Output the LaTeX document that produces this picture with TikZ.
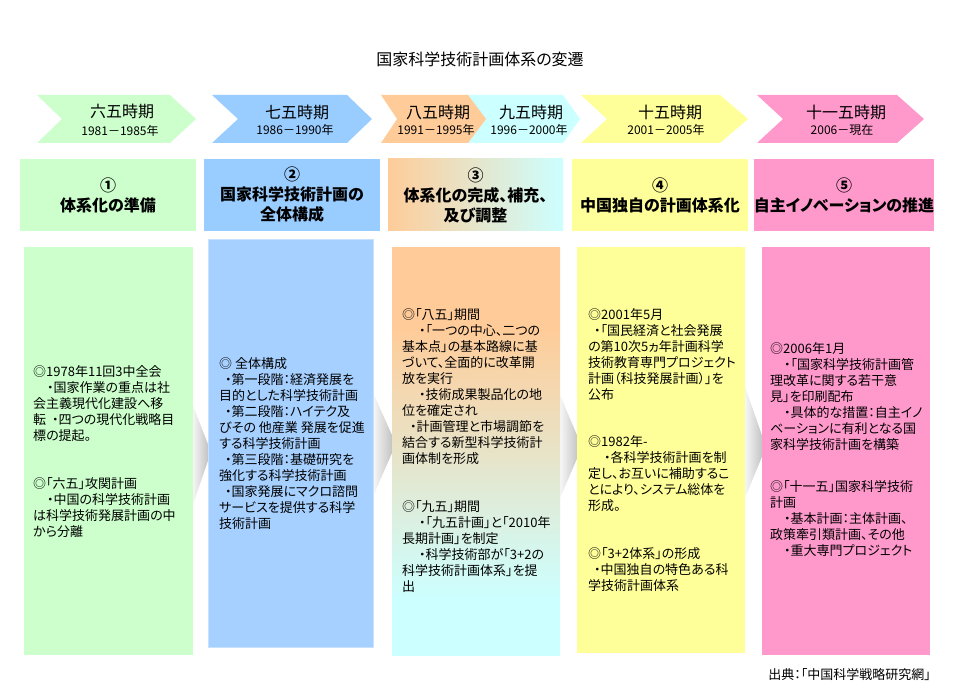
\documentclass[tikz,border=0pt]{standalone}
\usepackage{fontspec}
\setmainfont{Noto Sans CJK JP}[RawFeature=+palt]
\definecolor{cgreen}{HTML}{CCFFCC}
\definecolor{cblue}{HTML}{99CCFF}
\definecolor{cbluel}{HTML}{A6D0FF}
\definecolor{cbluee}{HTML}{C6E2FF}
\definecolor{corange}{HTML}{FFCC99}
\definecolor{ccyan}{HTML}{CCFFFF}
\definecolor{cyellow}{HTML}{FFFF99}
\definecolor{cpink}{HTML}{FF99CC}
\pgfdeclareverticalshading{orcy}{100bp}{color(0bp)=(ccyan); color(32bp)=(ccyan); color(65bp)=(corange); color(100bp)=(corange)}
\begin{document}
\begin{tikzpicture}[x=1pt,y=-1pt,
  ptitle/.style={font=\fontsize{16}{20}\selectfont, inner sep=0},
  pyear/.style={font=\fontsize{12}{14}\selectfont, inner sep=0},
  hbox/.style={minimum width=176pt, minimum height=72pt, inner sep=0, align=center, font=\bfseries\fontsize{16}{20}\selectfont},
  cbox/.style={minimum width=169pt, minimum height=408pt, inner sep=0, anchor=north west},
  ctext/.style={anchor=north west, inner sep=0, align=left, font=\fontsize{13}{16}\selectfont},
  garrow/.style={left color=white, right color=gray!55}
]
\useasboundingbox (0,0) rectangle (960,700);
\fill[white] (0,0) rectangle (960,700);

% title
\node[font=\fontsize{16}{20}\selectfont, inner sep=0] (title) at (480,59) {国家科学技術計画体系の変遷};

% period chevrons
\fill[cgreen] (37,95) -- (170,95) -- (196,119) -- (170,143) -- (37,143) -- (62,119) -- cycle;
\fill[cblue] (212,95) -- (347,95) -- (372,119) -- (347,143) -- (212,143) -- (238,119) -- cycle;
\fill[ccyan] (466,95) -- (563,95) -- (580,119) -- (563,143) -- (466,143) -- (483,119) -- cycle;
\fill[corange] (381,95) -- (468,95) -- (486,119) -- (468,143) -- (381,143) -- (397,119) -- cycle;
\fill[cyellow] (581,95) -- (720,95) -- (748,119) -- (720,143) -- (581,143) -- (607,119) -- cycle;
\fill[cpink] (757,95) -- (897,95) -- (924,119) -- (897,143) -- (757,143) -- (783,119) -- cycle;

\node[ptitle] (p1) at (122,111) {六五時期};
\node[pyear] (y1) at (120,131) {1981－1985年};
\node[ptitle] (p2) at (297,112) {七五時期};
\node[pyear] (y2) at (295,130) {1986－1990年};
\node[ptitle] (p3) at (438,112) {八五時期};
\node[pyear] (y3) at (436,130) {1991－1995年};
\node[ptitle] (p4) at (531,112) {九五時期};
\node[pyear] (y4) at (529,130) {1996－2000年};
\node[ptitle] (p5) at (670,112) {十五時期};
\node[pyear] (y5) at (666,130) {2001－2005年};
\node[ptitle] (p6) at (846,112) {十一五時期};
\node[pyear] (y6) at (842,130) {2006－現在};

% header boxes
\node[hbox, fill=cgreen] (h1) at (108,195) {①\\体系化の準備};
\node[hbox, fill=cblue] (h2) at (292,195) {②\\国家科学技術計画の\\全体構成};
\node[hbox, left color=corange, right color=ccyan, minimum width=175pt] (h3) at (475.5,195) {③\\体系化の完成、補充、\\及び調整};
\node[hbox, fill=cyellow] (h4) at (660,195) {④\\中国独自の計画体系化};
\node[hbox, fill=cpink] (h5) at (844,195) {⑤\\自主イノベーションの推進};

% gray arrows between columns (behind boxes)
\shade[garrow] (190,398) -- (211,452) -- (190,513) -- cycle;
\shade[garrow] (370,386) -- (396,444) -- (370,503) -- cycle;
\shade[garrow] (557,388) -- (582,447) -- (557,505) -- cycle;
\shade[garrow] (742,378) -- (766,447) -- (742,505) -- cycle;

% content boxes
\node[cbox, fill=cgreen] (c1) at (24,247) {};
\node[cbox, fill=cbluel, draw=cbluee, line width=1pt, minimum width=165pt] (c2) at (208,239) {};
\node[cbox, shading=orcy, minimum width=168pt] (c3) at (392,247) {};
\node[cbox, fill=cyellow, minimum width=168pt, minimum height=406pt] (c4) at (577,247) {};
\node[cbox, fill=cpink, minimum width=168pt] (c5) at (762,247) {};

\node[ctext] (t1) at (33,365.5) {◎1978年11回3中全会\\
\hspace*{14pt}・国家作業の重点は社\\
会主義現代化建設へ移\\
転\hspace*{6pt}・四つの現代化戦略目\\
標の提起。\\[32pt]
◎「六五」攻関計画\\
\hspace*{14pt}・中国の科学技術計画\\
は科学技術発展計画の中\\
から分離};

\node[ctext] (t2) at (219,357.5) {◎ 全体構成\\
\hspace*{6pt}・第一段階：経済発展を\\
目的とした科学技術計画\\
\hspace*{6pt}・第二段階：ハイテク及\\
びその 他産業 発展を促進\\
する科学技術計画\\
\hspace*{6pt}・第三段階：基礎研究を\\
強化する科学技術計画\\
\hspace*{6pt}・国家発展にマクロ諮問\\
サービスを提供する科学\\
技術計画};

\node[ctext] (t3) at (402,308.5) {◎「八五」期間\\
\hspace*{17pt}・「一つの中心、二つの\\
基本点」の基本路線に基\\
づいて、全面的に改革開\\
放を実行\\
\hspace*{17pt}・技術成果製品化の地\\
位を確定され\\
\hspace*{8pt}・計画管理と市場調節を\\
結合する新型科学技術計\\
画体制を形成\\[32pt]
◎「九五」期間\\
\hspace*{17pt}・「九五計画」と「2010年\\
長期計画」を制定\\
\hspace*{17pt}・科学技術部が「3+2の\\
科学技術計画体系」を提\\
出};

\node[ctext] (t4) at (588,308.5) {◎2001年5月\\
\hspace*{6pt}・「国民経済と社会発展\\
の第10次5ヵ年計画科学\\
技術教育専門プロジェクト\\
計画（科技発展計画）」を\\
公布\\[31pt]
◎1982年-\\
\hspace*{16pt}・各科学技術計画を制\\
定し、お互いに補助するこ\\
とにより、システム総体を\\
形成。\\[32pt]
◎「3+2体系」の形成\\
\hspace*{6pt}・中国独自の特色ある科\\
学技術計画体系};

\node[ctext] (t5) at (770,342.5) {◎2006年1月\\
\hspace*{14pt}・「国家科学技術計画管\\
理改革に関する若干意\\
見」を印刷配布\\
\hspace*{14pt}・具体的な措置：自主イノ\\
ベーションに有利となる国\\
家科学技術計画を構築\\[26pt]
◎「十一五」国家科学技術\\
計画\\
\hspace*{14pt}・基本計画：主体計画、\\
政策牽引類計画、その他\\
\hspace*{14pt}・重大専門プロジェクト};

% source
\node[anchor=east, inner sep=0, font=\fontsize{13}{16}\selectfont] (src) at (931,675) {出典：「中国科学戦略研究網」};
\end{tikzpicture}
\end{document}
